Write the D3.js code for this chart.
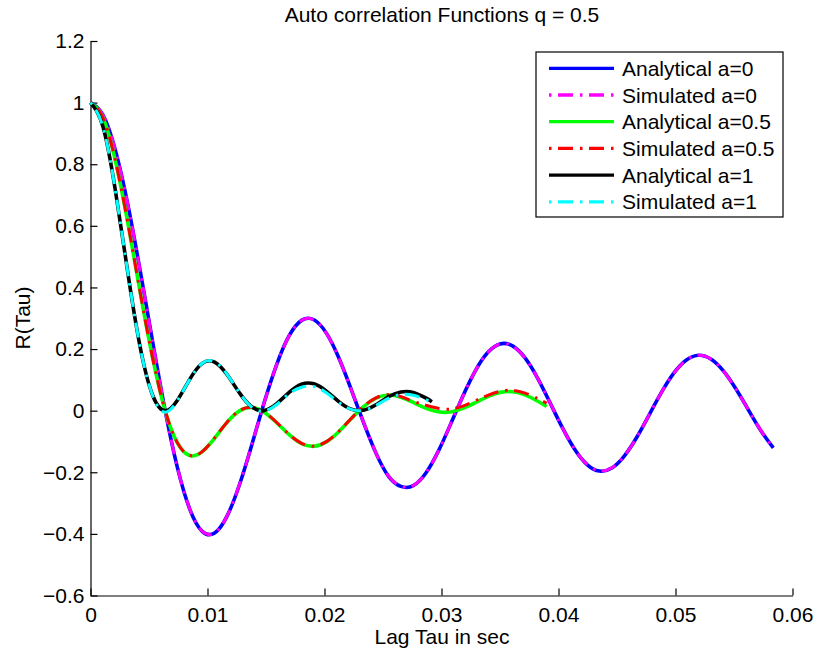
<!DOCTYPE html>
<html>
<head>
<meta charset="utf-8">
<script src="https://cdn.jsdelivr.net/npm/d3@7"></script>
<style>
  html, body { margin: 0; padding: 0; background: #fff; }
  text { font-family: "Liberation Sans", Arial, Helvetica, sans-serif; fill: #000; }
</style>
</head>
<body>
<svg id="chart" width="820" height="656"></svg>
<script>
// lag values (sec)
const tau = [
  0, 0.00106, 0.00212, 0.00318, 0.00424, 0.00531, 0.00637, 0.00743, 0.00849, 0.00955,
  0.01061, 0.01167, 0.01273, 0.01379, 0.01485, 0.01592, 0.01698, 0.01804, 0.01910, 0.02016,
  0.02122, 0.02228, 0.02334, 0.02440, 0.02546, 0.02653, 0.02759, 0.02865, 0.02971, 0.03077,
  0.03183, 0.03289, 0.03395, 0.03501, 0.03607, 0.03714, 0.03820, 0.03926, 0.04032, 0.04138,
  0.04244, 0.04350, 0.04456, 0.04562, 0.04669, 0.04775, 0.04881, 0.04987, 0.05093, 0.05199,
  0.05305, 0.05411, 0.05517, 0.05624, 0.05730, 0.05836
];
const tauEnd05 = 0.03899;
const tauEnd1 = 0.02918;

// a = 0
const rAnalytic0 = [
  1.0000, 0.9604, 0.8463, 0.6711, 0.4554, 0.2239, 0.0025, -0.1850, -0.3202, -0.3918,
  -0.3971, -0.3423, -0.2404, -0.1103, 0.0270, 0.1506, 0.2433, 0.2931, 0.2951, 0.2516,
  0.1717, 0.0692, -0.0387, -0.1378, -0.2123, -0.2459, -0.2434, -0.2032, -0.1331, -0.0446,
  0.0477, 0.1295, 0.1887, 0.2167, 0.2102, 0.1711, 0.1065, 0.0271, -0.0544, -0.1253,
  -0.1749, -0.1960, -0.1860, -0.1472, -0.0864, -0.0134, 0.0601, 0.1226, 0.1646, 0.1801,
  0.1670, 0.1282, 0.0701, 0.0020, -0.0650, -0.1207
];
const rSimulated0 = [
  1.0000, 0.9600, 0.8460, 0.6710, 0.4550, 0.2240, 0.0030, -0.1850, -0.3200, -0.3915,
  -0.3970, -0.3420, -0.2400, -0.1100, 0.0270, 0.1505, 0.2430, 0.2930, 0.2950, 0.2515,
  0.1715, 0.0690, -0.0385, -0.1375, -0.2120, -0.2455, -0.2430, -0.2030, -0.1330, -0.0445,
  0.0475, 0.1295, 0.1885, 0.2165, 0.2100, 0.1710, 0.1065, 0.0270, -0.0545, -0.1250,
  -0.1745, -0.1955, -0.1855, -0.1470, -0.0865, -0.0135, 0.0600, 0.1225, 0.1645, 0.1800,
  0.1670, 0.1280, 0.0700, 0.0020, -0.0650, -0.1205
];

// a = 0.5
const rAnalytic05 = [
  1.0000, 0.9508, 0.8128, 0.6120, 0.3854, 0.1713, 0.0017, -0.1049, -0.1458, -0.1332,
  -0.0889, -0.0378, -0.0006, 0.0107, -0.0050, -0.0392, -0.0779, -0.1068, -0.1156, -0.1013,
  -0.0682, -0.0261, 0.0132, 0.0408, 0.0510, 0.0437, 0.0268, 0.0084, -0.0036, -0.0041,
  0.0072, 0.0261, 0.0459, 0.0594, 0.0616, 0.0513, 0.0314, 0.0133
];
const rSimulated05 = [
  1.0000, 0.9505, 0.8125, 0.6120, 0.3855, 0.1715, 0.0020, -0.1045, -0.1455, -0.1330,
  -0.0885, -0.0375, 0.0000, 0.0110, -0.0045, -0.0385, -0.0770, -0.1060, -0.1150, -0.1005,
  -0.0675, -0.0255, 0.0140, 0.0415, 0.0520, 0.0455, 0.0300, 0.0180, 0.0080, 0.0050,
  0.0150, 0.0320, 0.0500, 0.0630, 0.0660, 0.0570, 0.0400, 0.0240
];

// a = 1
const rAnalytic1 = [
  1.0000, 0.9224, 0.7162, 0.4504, 0.2074, 0.0501, 0.0000, 0.0342, 0.1025, 0.1535,
  0.1577, 0.1172, 0.0578, 0.0122, 0.0007, 0.0227, 0.0592, 0.0859, 0.0871, 0.0633,
  0.0295, 0.0048, 0.0015, 0.0190, 0.0451, 0.0605, 0.0592, 0.0413, 0.0293
];
const rSimulated1 = [
  1.0000, 0.9220, 0.7160, 0.4500, 0.2070, 0.0495, -0.0050, 0.0330, 0.1020, 0.1540,
  0.1585, 0.1180, 0.0580, 0.0110, -0.0010, 0.0200, 0.0550, 0.0760, 0.0780, 0.0580,
  0.0270, 0.0040, 0.0010, 0.0170, 0.0400, 0.0520, 0.0500, 0.0360, 0.0250
];

const xTicks = [0, 0.01, 0.02, 0.03, 0.04, 0.05, 0.06];
const yTicks = [-0.6, -0.4, -0.2, 0, 0.2, 0.4, 0.6, 0.8, 1, 1.2];

const titleText = "Auto correlation Functions q = 0.5";
const xLabel = "Lag Tau in sec";
const yLabel = "R(Tau)";

const tau05 = tau.slice(0, 37).concat([tauEnd05]);
const tau1 = tau.slice(0, 28).concat([tauEnd1]);

const series = [
  { name: "Analytical a=0",   t: tau,   r: rAnalytic0,   color: "#0000ff", dashed: false },
  { name: "Simulated a=0",    t: tau,   r: rSimulated0,  color: "#ff00ff", dashed: true },
  { name: "Analytical a=0.5", t: tau05, r: rAnalytic05,  color: "#00ff00", dashed: false },
  { name: "Simulated a=0.5",  t: tau05, r: rSimulated05, color: "#ff0000", dashed: true },
  { name: "Analytical a=1",   t: tau1,  r: rAnalytic1,   color: "#000000", dashed: false },
  { name: "Simulated a=1",    t: tau1,  r: rSimulated1,  color: "#00ffff", dashed: true }
];

const svg = d3.select("#chart");
const fontSize = 21;
const dash = "2.5,6.5,15,7";

const x = d3.scaleLinear().domain([0, 0.06]).range([90.5, 792.5]);
const y = d3.scaleLinear().domain([-0.6, 1.2]).range([595.5, 41]);
const fmt = d3.format("");

// axes (left + bottom only, ticks pointing inward)
const xAxis = svg.append("g")
  .attr("transform", `translate(0,${y(-0.6)})`)
  .call(d3.axisBottom(x).tickValues(xTicks).tickFormat(fmt).tickSizeInner(-7).tickSizeOuter(0));
const yAxis = svg.append("g")
  .attr("transform", `translate(${x(0)},0)`)
  .call(d3.axisLeft(y).tickValues(yTicks).tickFormat(fmt).tickSizeInner(-7).tickSizeOuter(0));

[xAxis, yAxis].forEach(g => {
  g.select(".domain").attr("stroke", "#000").attr("stroke-width", 1.2);
  g.selectAll(".tick line").attr("stroke", "#000").attr("stroke-width", 1.2);
  g.selectAll(".tick text").attr("font-size", fontSize).attr("font-family", null).attr("fill", "#000");
});
xAxis.selectAll(".tick text").attr("y", 12);
yAxis.selectAll(".tick text").attr("x", -6);

// curves
const line = d3.line()
  .x(d => x(d[0]))
  .y(d => y(d[1]))
  .curve(d3.curveNatural);

svg.append("g")
  .selectAll("path")
  .data(series)
  .join("path")
  .attr("d", s => line(s.t.map((t, i) => [t, s.r[i]])))
  .attr("fill", "none")
  .attr("stroke", s => s.color)
  .attr("stroke-width", s => s.dashed ? 3 : 3.6)
  .attr("stroke-linejoin", "round")
  .attr("stroke-dasharray", s => s.dashed ? dash : null);

// title and labels
svg.append("text")
  .attr("x", 442).attr("y", 22)
  .attr("text-anchor", "middle")
  .attr("font-size", fontSize)
  .text(titleText);

svg.append("text")
  .attr("x", 442).attr("y", 644)
  .attr("text-anchor", "middle")
  .attr("font-size", fontSize)
  .text(xLabel);

svg.append("text")
  .attr("transform", "translate(30,318) rotate(-90)")
  .attr("text-anchor", "middle")
  .attr("font-size", fontSize)
  .text(yLabel);

// legend
const legend = svg.append("g");
legend.append("rect")
  .attr("x", 536).attr("y", 52)
  .attr("width", 247).attr("height", 165)
  .attr("fill", "#fff")
  .attr("stroke", "#000")
  .attr("stroke-width", 1.2);

const rows = legend.selectAll("g.row")
  .data(series)
  .join("g")
  .attr("class", "row")
  .attr("transform", (d, i) => `translate(0,${68.3 + i * 26.7})`);

rows.append("line")
  .attr("x1", 549).attr("x2", 614)
  .attr("stroke", d => d.color)
  .attr("stroke-width", 3.3)
  .attr("stroke-dasharray", d => d.dashed ? dash : null);

rows.append("text")
  .attr("x", 622).attr("y", 7.5)
  .attr("font-size", fontSize)
  .text(d => d.name);
</script>
</body>
</html>
